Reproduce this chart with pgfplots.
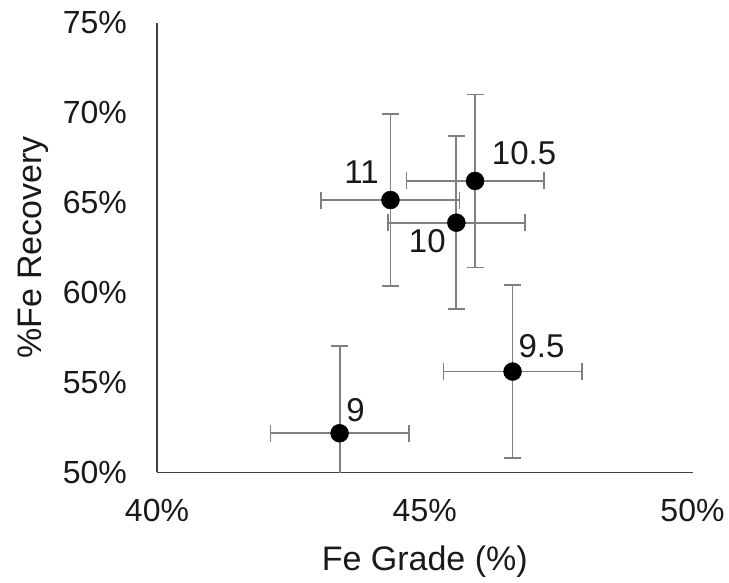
\documentclass[border=0pt]{standalone}
\usepackage{pgfplots}
\pgfplotsset{compat=1.18}
\usepackage{pgfplotstable}
\usepackage{fontspec}
\setmainfont{Liberation Sans}
\pgfplotstableread{
x y ex ey lab dx dy
43.41 52.17 1.29 4.85 9 16 23
46.64 55.60 1.29 4.81 9.5 29 25
45.59 63.88 1.28 4.82 10 -29 -18
45.94 66.20 1.28 4.81 10.5 49 28
44.36 65.14 1.29 4.77 11 -29 28
}\datatable
\begin{document}
\begin{tikzpicture}
\begin{axis}[
  scale only axis, width=535.5bp, height=449.6bp,
  xmin=40, xmax=50, ymin=50, ymax=75,
  axis x line*=bottom, axis y line*=left,
  axis line style={-, black!75, line width=1.2bp},
  xtick={40,45,50}, xticklabels={40\%,45\%,50\%},
  ytick={50,55,60,65,70,75}, yticklabels={50\%,55\%,60\%,65\%,70\%,75\%},
  major tick length=0pt,
  tick label style={font=\fontsize{32bp}{38bp}\selectfont, text=black!90},
  xticklabel style={anchor=north, inner sep=0pt, yshift=-27bp},
  yticklabel style={anchor=east, inner sep=0pt, xshift=-30bp},
  xlabel={Fe Grade (\%)}, ylabel={\%Fe Recovery},
  label style={font=\fontsize{34bp}{40bp}\selectfont, text=black!90},
  xlabel style={at={(axis description cs:0.5,-0.2195)}, anchor=base},
  ylabel style={at={(axis description cs:-0.215,0.5)}, anchor=base},
  clip=true,
]
\addplot[only marks, mark=none, line width=1.8bp, black!50,
  error bars/.cd, x dir=both, x explicit, y dir=both, y explicit,
  error bar style={line width=1.8bp, draw=black!50},
  error mark options={rotate=90, mark size=8.5bp, line width=1.8bp, draw=black!50}
] table[x=x, y=y, x error=ex, y error=ey] {\datatable};
\addplot[only marks, mark=*, mark size=9bp, black] table[x=x, y=y] {\datatable};
\addplot[draw=none, mark=none, nodes near coords, point meta=explicit symbolic,
  visualization depends on={\thisrow{dx} \as \dx},
  visualization depends on={\thisrow{dy} \as \dy},
  nodes near coords style={anchor=center, inner sep=0pt, xshift=\dx bp, yshift=\dy bp,
    font=\fontsize{33bp}{38bp}\selectfont, text=black!90}
] table[x=x, y=y, meta=lab] {\datatable};
\end{axis}
\pgfresetboundingbox
\path[use as bounding box] (-157bp,-110.7bp) rectangle (572bp,472.3bp);
\end{tikzpicture}
\end{document}
